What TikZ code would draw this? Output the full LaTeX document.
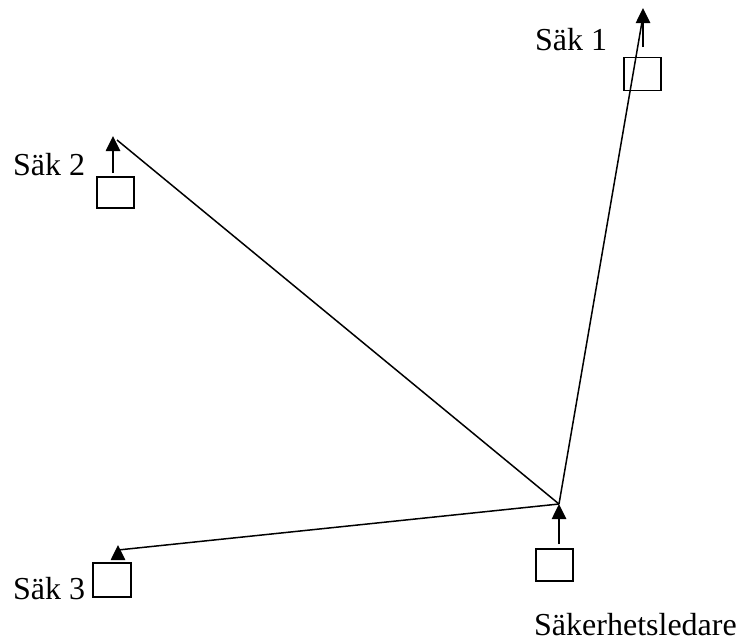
\documentclass[tikz,border=0pt]{standalone}
\usepackage{fontspec}
\setmainfont{Liberation Serif}
\usetikzlibrary{arrows.meta}
\begin{document}
\begin{tikzpicture}[x=1pt,y=-1pt,
  sakbox/.style={draw,line width=1.6pt,minimum width=37pt,minimum height=33pt,inner sep=0pt},
  upar/.style={line width=2.6pt,-{Triangle[length=15pt,width=14pt]}},
  link/.style={line width=1.5pt},
  lbl/.style={inner sep=0pt,anchor=base west,font=\fontsize{32}{38}\selectfont}]
\useasboundingbox (0,0) rectangle (744,643);
% boxes
\node[sakbox] (b1) at (642.5,74) {};
\node[sakbox,minimum height=31pt] (b2) at (115.5,192.5) {};
\node[sakbox,minimum width=38pt,minimum height=34pt] (b3) at (112,580) {};
\node[sakbox,minimum height=32pt] (b0) at (554.5,565) {};
% arrow bases and tips
\coordinate (s1) at (643,47);  \coordinate (t1) at (643,8);
\coordinate (s2) at (113,173); \coordinate (t2) at (113,136);
\coordinate (s3) at (118,558); \coordinate (t3) at (118,545);
\coordinate (s0) at (559,544); \coordinate (t0) at (559,504);
% line end points
\coordinate (e1) at (643,16);
\coordinate (e2) at (117,140);
\coordinate (e3) at (118,550);
% connectors
\draw[link] (t0) -- (e1);
\draw[link] (t0) -- (e2);
\draw[link] (t0) -- (e3);
% arrows
\draw[upar] (s1) -- (t1);
\draw[upar] (s2) -- (t2);
\draw[upar] (s3) -- (t3);
\draw[upar] (s0) -- (t0);
% labels
\node[lbl] (l1) at (535,50) {Säk 1};
\node[lbl] (l2) at (13,175) {Säk 2};
\node[lbl] (l3) at (13,599) {Säk 3};
\node[lbl] (l0) at (534,635) {Säkerhetsledare};
\end{tikzpicture}
\end{document}
